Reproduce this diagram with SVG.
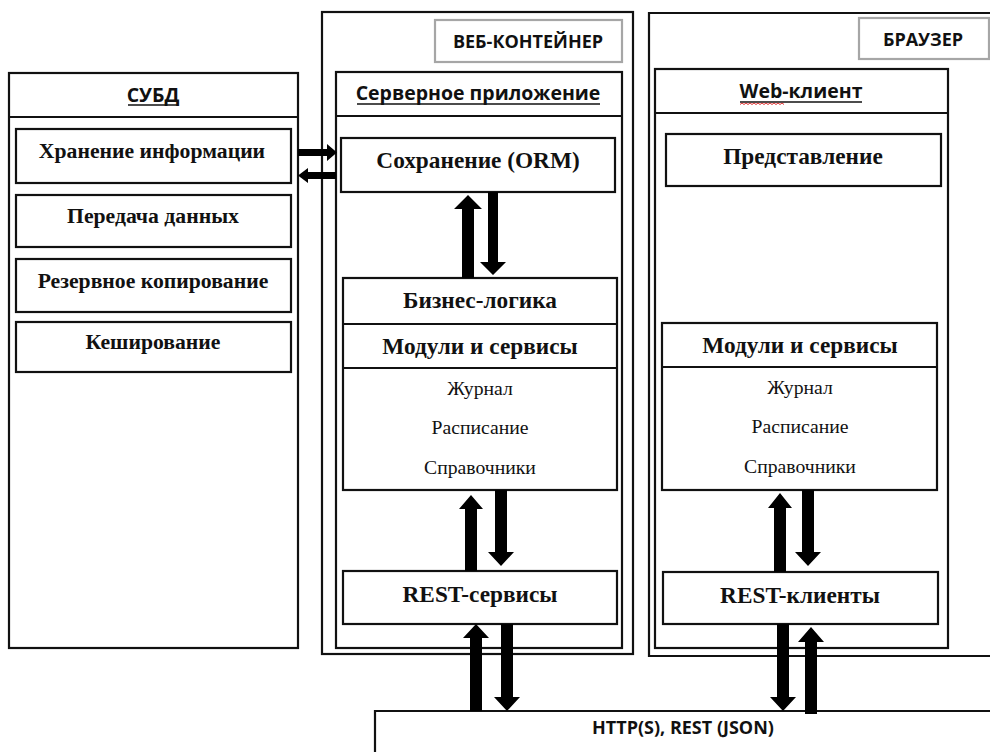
<svg xmlns="http://www.w3.org/2000/svg" width="990" height="752" viewBox="0 0 990 752">
  <style>
    .box { fill: #ffffff; stroke: #111111; stroke-width: 2.2; }
    .line { fill: none; stroke: #111111; stroke-width: 2.2; }
    .badge { fill: #ffffff; stroke: #a6a6a6; stroke-width: 2.2; }
    .arrow { fill: #000000; stroke: none; }
    .serif-b { font-family: "Liberation Serif", "Times New Roman", serif; font-weight: bold; font-size: 23.3px; fill: #111111; text-anchor: middle; }
    .serif-s { font-family: "Liberation Serif", "Times New Roman", serif; font-weight: bold; font-size: 21.7px; fill: #111111; text-anchor: middle; }
    .serif { font-family: "Liberation Serif", "Times New Roman", serif; font-size: 19.7px; fill: #111111; text-anchor: middle; }
    .sans-h { font-family: "Open Sans", "Liberation Sans", sans-serif; font-weight: bold; font-size: 19.5px; fill: #111111; text-anchor: middle; }
    .sans-b { font-family: "Open Sans", "Liberation Sans", sans-serif; font-weight: bold; font-size: 18px; fill: #111111; text-anchor: middle; }
    .ul { stroke: #111111; stroke-width: 1.5; }
  </style>

  <rect width="990" height="752" fill="#ffffff"/>

  <!-- DBMS column -->
  <g id="dbms">
    <rect class="box" x="9" y="73" width="289" height="575"/>
    <line class="line" x1="9" y1="117" x2="298" y2="117"/>
    <text class="sans-h" x="153" y="102">СУБД</text>
    <line class="ul" x1="128" y1="105" x2="178" y2="105"/>
  </g>
  <g id="dbms-storage">
    <rect class="box" x="16" y="129" width="275" height="54"/>
    <text class="serif-s" x="152" y="158">Хранение информации</text>
  </g>
  <g id="dbms-transfer">
    <rect class="box" x="16" y="195" width="275" height="52"/>
    <text class="serif-s" x="153" y="223">Передача данных</text>
  </g>
  <g id="dbms-backup">
    <rect class="box" x="16" y="259" width="275" height="53"/>
    <text class="serif-s" x="153" y="288">Резервное копирование</text>
  </g>
  <g id="dbms-cache">
    <rect class="box" x="16" y="322" width="275" height="50"/>
    <text class="serif-s" x="153" y="349">Кеширование</text>
  </g>

  <!-- Web container with server application -->
  <g id="web-container">
    <rect class="box" x="322" y="12" width="311" height="642"/>
    <rect class="badge" x="435" y="20" width="187" height="42"/>
    <text class="sans-b" x="528" y="48">ВЕБ-КОНТЕЙНЕР</text>
  </g>
  <g id="server-app">
    <rect class="box" x="336" y="72" width="286" height="576"/>
    <line class="line" x1="336" y1="116" x2="622" y2="116"/>
    <text class="sans-h" x="478" y="100">Серверное приложение</text>
    <line class="ul" x1="357" y1="104" x2="600" y2="104"/>
  </g>
  <g id="server-orm">
    <rect class="box" x="341" y="138" width="274" height="54"/>
    <text class="serif-b" x="478" y="168">Сохранение (ORM)</text>
  </g>
  <g id="server-logic">
    <rect class="box" x="343" y="278" width="274" height="212"/>
    <line class="line" x1="343" y1="324" x2="617" y2="324"/>
    <line class="line" x1="343" y1="368" x2="617" y2="368"/>
    <text class="serif-b" x="480" y="308">Бизнес-логика</text>
    <text class="serif-b" x="480" y="354">Модули и сервисы</text>
    <text class="serif" x="480" y="395">Журнал</text>
    <text class="serif" x="480" y="434">Расписание</text>
    <text class="serif" x="480" y="474">Справочники</text>
  </g>
  <g id="server-rest">
    <rect class="box" x="343" y="571" width="274" height="53"/>
    <text class="serif-b" x="480" y="602">REST-сервисы</text>
  </g>

  <!-- Browser with web client -->
  <g id="browser">
    <path class="line" d="M992,13 H649 V656 H992"/>
    <rect class="badge" x="859" y="18" width="130" height="41"/>
    <text class="sans-b" x="923" y="46">БРАУЗЕР</text>
  </g>
  <g id="web-client">
    <rect class="box" x="655" y="69" width="293" height="579"/>
    <line class="line" x1="655" y1="113" x2="948" y2="113"/>
    <text class="sans-h" x="801" y="98">Web-клиент</text>
    <line class="ul" x1="740" y1="102" x2="862" y2="102"/>
    <path d="M740,104.5 l2,-1.5 l2,1.5 l2,-1.5 l2,1.5 l2,-1.5 l2,1.5 l2,-1.5 l2,1.5 l2,-1.5 l2,1.5 l2,-1.5 l2,1.5 l2,-1.5 l2,1.5 l2,-1.5 l2,1.5 l2,-1.5 l2,1.5 l2,-1.5 l2,1.5 l2,-1.5 l2,1.5" fill="none" stroke="#e03030" stroke-width="1"/>
  </g>
  <g id="client-view">
    <rect class="box" x="666" y="134" width="275" height="52"/>
    <text class="serif-b" x="803" y="164">Представление</text>
  </g>
  <g id="client-modules">
    <rect class="box" x="662" y="323" width="275" height="167"/>
    <line class="line" x1="662" y1="367" x2="937" y2="367"/>
    <text class="serif-b" x="800" y="353">Модули и сервисы</text>
    <text class="serif" x="800" y="394">Журнал</text>
    <text class="serif" x="800" y="433">Расписание</text>
    <text class="serif" x="800" y="473">Справочники</text>
  </g>
  <g id="client-rest">
    <rect class="box" x="663" y="572" width="275" height="52"/>
    <text class="serif-b" x="800" y="603">REST-клиенты</text>
  </g>

  <!-- Transport -->
  <g id="transport">
    <path class="line" d="M992,711 H375 V754"/>
    <text class="sans-b" x="683" y="734">HTTP(S), REST (JSON)</text>
  </g>

  <!-- Block arrows between the layers -->
  <g id="connectors">
    <polygon class="arrow" points="298,149 327,149 327,144 337,152.5 327,161 327,156 298,156"/>
    <polygon class="arrow" points="336,172 308,172 308,168 298,175.5 308,183 308,179 336,179"/>

    <polygon class="arrow" points="462,278 462,209 454,209 468,195 482,209 474,209 474,278"/>
    <polygon class="arrow" points="488,192 488,262 480,262 493,275 506,262 498,262 498,192"/>

    <polygon class="arrow" points="465,571 465,509 459,509 471,495 483,509 477,509 477,571"/>
    <polygon class="arrow" points="495,490 495,552 488,552 501,566 514,552 507,552 507,490"/>

    <polygon class="arrow" points="774,572 774,508 768,508 780,493 792,508 786,508 786,572"/>
    <polygon class="arrow" points="802,490 802,552 795,552 808,566 821,552 814,552 814,490"/>

    <polygon class="arrow" points="470,711 470,638 463,638 476,624 489,638 482,638 482,711"/>
    <polygon class="arrow" points="501,624 501,697 494,697 507,711 520,697 513,697 513,624"/>

    <polygon class="arrow" points="777,624 777,697 770,697 783,711 796,697 789,697 789,624"/>
    <polygon class="arrow" points="805,714 805,642 798,642 811,627 824,642 817,642 817,714"/>
  </g>
</svg>
